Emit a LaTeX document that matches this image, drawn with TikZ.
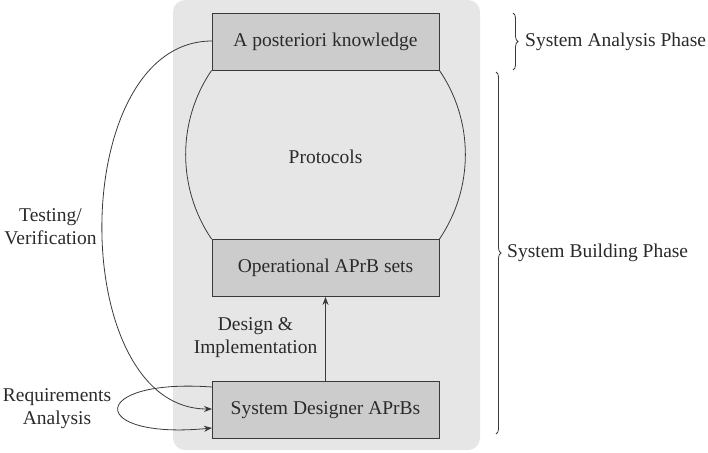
\documentclass[tikz,border=0pt]{standalone}
\usepackage{fontspec}
\setmainfont{Liberation Serif}
\usetikzlibrary{arrows.meta,decorations.pathreplacing}
\definecolor{bgc}{HTML}{E6E6E6}
\definecolor{boxc}{HTML}{CCCCCC}
\definecolor{linec}{HTML}{3A3A3A}
\definecolor{txtc}{HTML}{2A2A2A}
\tikzset{
  phasebox/.style={draw=linec, line width=0.9pt, fill=boxc, minimum width=227pt, minimum height=57pt, inner sep=0pt, text=txtc, font=\fontsize{19.5}{23}\selectfont},
  lbl/.style={text=txtc, font=\fontsize{19.5}{23}\selectfont, align=center, inner sep=0pt},
  conn/.style={draw=linec, line width=0.8pt},
  arr/.style={conn, -{Stealth[length=8pt,width=6pt]}},
  brc/.style={draw=linec, line width=0.8pt, decorate, decoration={brace, amplitude=5pt}}
}
\begin{document}
\begin{tikzpicture}[x=1pt,y=-1pt]
\useasboundingbox (0,0) rectangle (708,452);
\fill[bgc, rounded corners=12pt] (173,0) rectangle (480,450);
\node[phasebox] (apost) at (325.5,41.5) {A posteriori knowledge};
\node[phasebox] (oper) at (325.5,268) {Operational APrB sets};
\node[phasebox] (sysd) at (325.5,410) {System Designer APrBs};
\node[lbl] (prot) at (325.5,157) {Protocols};
\draw[conn] (apost.south west) .. controls (177,121) and (177,188) .. (oper.north west);
\draw[conn] (apost.south east) .. controls (474,121) and (474,188) .. (oper.north east);
\draw[arr] (sysd.north) -- (oper.south);
\node[lbl] (design) at (255.5,337.5) {Design \&\\Implementation};
\coordinate (tvs) at (212,41);
\coordinate (tve) at (212,409);
\draw[arr] (tvs) .. controls (66,41) and (66,409) .. (tve);
\node[lbl] (testing) at (50.5,227) {Testing/\\Verification};
\coordinate (ras) at (212,387);
\coordinate (rae) at (212,428);
\draw[arr] (ras) .. controls (87,378) and (87,440) .. (rae);
\node[lbl] (req) at (57,408.5) {Requirements\\Analysis};
\coordinate (b1t) at (513,13);
\coordinate (b1b) at (513,70);
\draw[brc] (b1t) -- (b1b);
\node[lbl, anchor=west] (sap) at (525,42) {System Analysis Phase};
\coordinate (b2t) at (496,72);
\coordinate (b2b) at (496,434);
\draw[brc] (b2t) -- (b2b);
\node[lbl, anchor=west] (sbp) at (507,253) {System Building Phase};
\end{tikzpicture}
\end{document}
